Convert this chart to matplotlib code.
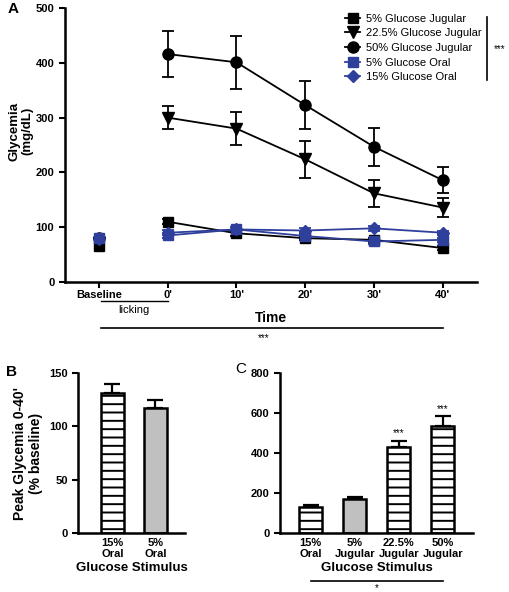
import numpy as np
import matplotlib
matplotlib.use('Agg')
import matplotlib.pyplot as plt
from matplotlib.lines import Line2D

plt.rcParams['font.family'] = ['Liberation Sans', 'DejaVu Sans']
plt.rcParams['hatch.linewidth'] = 1.4
plt.rcParams['axes.linewidth'] = 1.8

# ---- panel A data ----
time_labels = ["Baseline", "0'", "10'", "20'", "30'", "40'"]
series_names = ['5% Glucose Jugular', '22.5% Glucose Jugular', '50% Glucose Jugular',
                '5% Glucose Oral', '15% Glucose Oral']
baseline = [66, 72, 80, 80, 78]
jug5 = [110, 89, 80, 77, 62]
jug5_err = [5, 5, 4, 4, 4]
jug22 = [300, 280, 224, 162, 136]
jug22_err = [21, 30, 34, 25, 17]
jug50 = [416, 401, 323, 247, 186]
jug50_err = [42, 48, 43, 35, 24]
oral5 = [85, 96, 84, 74, 77]
oral5_err = [5, 5, 4, 4, 4]
oral15 = [90, 96, 94, 98, 90]
oral15_err = [5, 5, 4, 4, 4]

# ---- panel B data ----
b_labels = ['15%\nOral', '5%\nOral']
b_vals = [131, 117]
b_err = [9, 8]

# ---- panel C data ----
c_labels = ['15%\nOral', '5%\nJugular', '22.5%\nJugular', '50%\nJugular']
c_vals = [131, 170, 430, 537]
c_err = [8, 9, 32, 47]

blue = '#2e3f9c'
fig = plt.figure(figsize=(5.1, 5.92), dpi=100)

# ---------------- A ----------------
ax = fig.add_axes([0.127, 0.5236, 0.808, 0.4628])
t = np.arange(5)
styles = [
    (jug5, jug5_err, 's', 'black', 7),
    (jug22, jug22_err, 'v', 'black', 8),
    (jug50, jug50_err, 'o', 'black', 8),
    (oral5, oral5_err, 's', blue, 7),
    (oral15, oral15_err, 'D', blue, 6.5),
]
handles = []
for (vals, err, mk, col, ms), name, b in zip(styles, series_names, baseline):
    ax.errorbar(t, vals, yerr=err, marker=mk, color=col, ms=ms, lw=1.3,
                capsize=4, capthick=1.3, elinewidth=1.3)
    ax.plot([-1], [b], marker=mk, color=col, ms=ms, ls='none')
    handles.append(Line2D([0], [0], marker=mk, color=col, ms=ms, lw=1.3, label=name))

ax.set_xlim(-1.5, 4.5)
ax.set_ylim(0, 500)
ax.set_xticks(np.arange(-1, 5))
ax.set_xticklabels(time_labels, fontweight='bold', fontsize=8)
ax.set_yticks([0, 100, 200, 300, 400, 500])
ax.tick_params(labelsize=8, width=1.5, length=4)
ax.tick_params(axis='x', pad=2)
for lab in ax.get_yticklabels():
    lab.set_fontweight('bold')
ax.spines['top'].set_visible(False)
ax.spines['right'].set_visible(False)
ax.set_ylabel('Glycemia\n(mg/dL)', fontweight='bold', fontsize=9.5)
ax.yaxis.set_label_coords(-0.075, 0.55)
ax.set_xlabel('Time', fontweight='bold', fontsize=10, labelpad=8)

tr = ax.get_xaxis_transform()
ax.plot([-0.97, 0], [-0.068, -0.068], color='black', lw=1, transform=tr, clip_on=False)
ax.text(-0.5, -0.102, 'licking', ha='center', va='center', fontsize=8, transform=tr)
ax.plot([-0.97, 4.0], [-0.168, -0.168], color='black', lw=1.2, transform=tr, clip_on=False)
ax.text(1.39, -0.205, '***', ha='center', va='center', fontsize=7, transform=tr)

leg = ax.legend(handles=handles, loc='upper right', bbox_to_anchor=(1.025, 1.0), frameon=False,
                fontsize=8, handlelength=1.4, handletextpad=0.5, labelspacing=0.42,
                borderaxespad=0.1)
ax.plot([1.024, 1.024], [0.737, 0.967], color='black', lw=1.2, transform=ax.transAxes, clip_on=False)
ax.text(1.055, 0.85, '***', ha='center', va='center', fontsize=7, transform=ax.transAxes)
fig.text(0.014, 0.984, 'A', fontweight='bold', fontsize=11, va='center')

# ---------------- B ----------------
axb = fig.add_axes([0.153, 0.0997, 0.21, 0.270])
xb = np.arange(len(b_vals))
axb.bar(xb, b_vals, width=0.53, color=['white', '#c0c0c0'], edgecolor='black',
        linewidth=1.8, hatch=['--', ''], zorder=2)
axb.errorbar(xb, b_vals, yerr=[np.zeros(2), b_err], fmt='none', ecolor='black',
             capsize=6, capthick=1.6, elinewidth=1.6, zorder=1)
axb.set_xlim(-0.8, 1.69)
axb.set_ylim(0, 150)
axb.set_yticks([0, 50, 100, 150])
axb.set_xticks(xb)
axb.set_xticklabels(b_labels, fontweight='bold', fontsize=8)
axb.tick_params(axis='x', length=0)
axb.tick_params(axis='y', labelsize=8, width=1.5, length=4)
for lab in axb.get_yticklabels():
    lab.set_fontweight('bold')
axb.spines['top'].set_visible(False)
axb.spines['right'].set_visible(False)
axb.set_ylabel("Peak Glycemia 0-40'\n(% baseline)", fontweight='bold', fontsize=10)
axb.set_xlabel('Glucose Stimulus', fontweight='bold', fontsize=9.5, labelpad=2)
fig.text(0.012, 0.372, 'B', fontweight='bold', fontsize=11, va='center')

# ---------------- C ----------------
axc = fig.add_axes([0.549, 0.0997, 0.378, 0.270])
xc = np.arange(len(c_vals))
axc.bar(xc, c_vals, width=0.52, color=['white', '#c0c0c0', 'white', 'white'],
        edgecolor='black', linewidth=1.8, hatch=['--', '', '--', '--'], zorder=2)
axc.errorbar(xc, c_vals, yerr=[np.zeros(4), c_err], fmt='none', ecolor='black',
             capsize=6, capthick=1.6, elinewidth=1.6, zorder=1)
for i in [2, 3]:
    axc.text(xc[i], c_vals[i] + c_err[i] + 38, '***', ha='center', va='center', fontsize=7)
axc.set_xlim(-0.7, 3.68)
axc.set_ylim(0, 800)
axc.set_yticks([0, 200, 400, 600, 800])
axc.set_xticks(xc)
axc.set_xticklabels(c_labels, fontweight='bold', fontsize=8)
axc.tick_params(axis='x', length=0)
axc.tick_params(axis='y', labelsize=8, width=1.5, length=4)
for lab in axc.get_yticklabels():
    lab.set_fontweight('bold')
axc.spines['top'].set_visible(False)
axc.spines['right'].set_visible(False)
axc.set_xlabel('Glucose Stimulus', fontweight='bold', fontsize=9.5, labelpad=2)
trc = axc.get_xaxis_transform()
axc.plot([0, 3], [-0.30, -0.30], color='black', lw=1.2, transform=trc, clip_on=False)
axc.text(1.5, -0.345, '*', ha='center', va='center', fontsize=7, transform=trc)
fig.text(0.461, 0.377, 'C', fontsize=11, va='center')

fig.savefig('out.png', dpi=100)
